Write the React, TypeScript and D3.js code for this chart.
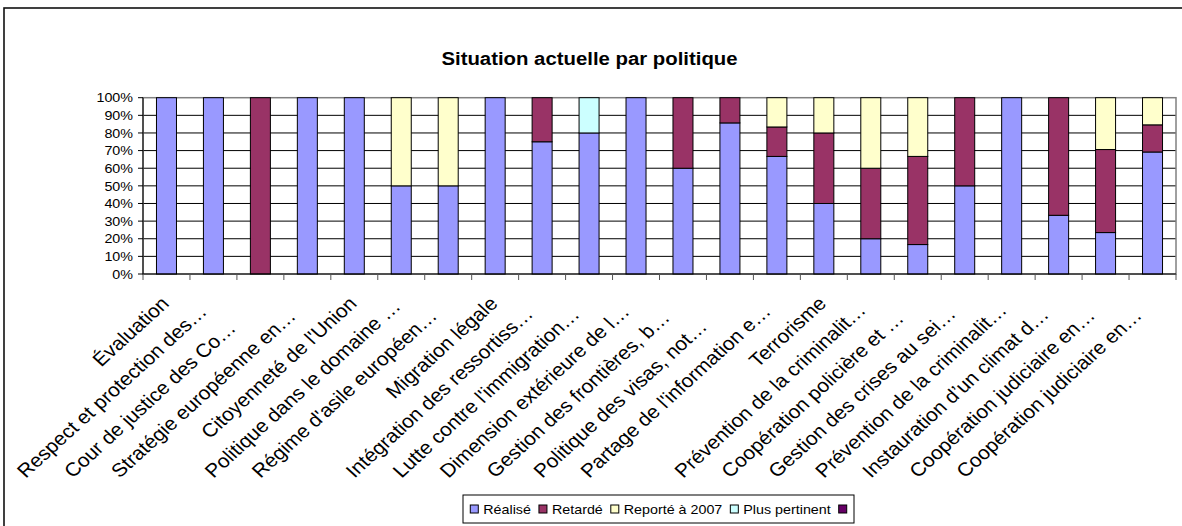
import React, { useEffect, useRef } from 'react';
import * as d3 from 'd3';

const categories = [
  'Évaluation',
  'Respect et protection des…',
  'Cour de justice des Co…',
  'Stratégie européenne en…',
  "Citoyenneté de l'Union",
  'Politique dans le domaine …',
  "Régime d'asile européen…",
  'Migration légale',
  'Intégration des ressortiss…',
  "Lutte contre l'immigration…",
  'Dimension extérieure de l…',
  'Gestion des frontières, b…',
  'Politique des visas, not…',
  "Partage de l'information e…",
  'Terrorisme',
  'Prévention de la criminalit…',
  'Coopération policière et …',
  'Gestion des crises au sei…',
  'Prévention de la criminalit…',
  'Instauration d’un climat d…',
  'Coopération judiciaire en…',
  'Coopération judiciaire en…',
];

// percentages
const realise = [100, 100, 0, 100, 100, 50, 50, 100, 75, 80, 100, 60, 85.7, 66.7, 40, 20, 16.7, 50, 100, 33.3, 23.5, 69.2];
const retarde = [0, 0, 100, 0, 0, 0, 0, 0, 25, 0, 0, 40, 14.3, 16.7, 40, 40, 50, 50, 0, 66.7, 47.1, 15.4];
const reporte = [0, 0, 0, 0, 0, 50, 50, 0, 0, 0, 0, 0, 0, 16.6, 20, 40, 33.3, 0, 0, 0, 29.4, 15.4];
const plusPertinent = [0, 0, 0, 0, 0, 0, 0, 0, 0, 20, 0, 0, 0, 0, 0, 0, 0, 0, 0, 0, 0, 0];
const sansNom = [0, 0, 0, 0, 0, 0, 0, 0, 0, 0, 0, 0, 0, 0, 0, 0, 0, 0, 0, 0, 0, 0];

const seriesNames = ['Réalisé', 'Retardé', 'Reporté à 2007', 'Plus pertinent', ''];
const seriesValues = [realise, retarde, reporte, plusPertinent, sansNom];
const seriesColors = ['#9999FF', '#993366', '#FFFFCC', '#CCFFFF', '#660066'];
const yTicks = [0, 10, 20, 30, 40, 50, 60, 70, 80, 90, 100];

const FONT = '"Liberation Sans", Arial, sans-serif';
const SX = 1.1; // the picture is stretched sideways

const App: React.FC = () => {
  const svgRef = useRef<SVGSVGElement>(null);

  useEffect(() => {
    if (!svgRef.current) return;
    const svg = d3.select(svgRef.current);
    svg.selectAll('*').remove();

    const left = 143, right = 1176, top = 97.7, bottom = 274;

    // frame
    svg.append('rect')
      .attr('x', 4).attr('y', 8)
      .attr('width', 1200).attr('height', 600)
      .attr('fill', 'white').attr('stroke', '#111').attr('stroke-width', 1.6);

    const x = d3.scaleBand<number>()
      .domain(categories.map((_, i) => i))
      .range([left, right])
      .paddingInner(0.574)
      .paddingOuter(0.287);

    const y = d3.scaleLinear().domain([0, 100]).range([bottom, top]);

    // gridlines
    svg.append('g').selectAll('line')
      .data(yTicks.slice(1, -1))
      .enter().append('line')
      .attr('x1', left).attr('x2', right)
      .attr('y1', d => y(d)).attr('y2', d => y(d))
      .attr('stroke', '#000').attr('stroke-width', 1);

    // plot border
    svg.append('rect')
      .attr('x', left).attr('y', top)
      .attr('width', right - left).attr('height', bottom - top)
      .attr('fill', 'none').attr('stroke', '#808080').attr('stroke-width', 1.5);

    // stacked bars
    const rows = categories.map((_, i) => {
      const r: Record<string, number> = { i };
      seriesNames.forEach((_, s) => { r['s' + s] = seriesValues[s][i]; });
      return r;
    });
    const stack = d3.stack<Record<string, number>>().keys(seriesNames.map((_, s) => 's' + s));
    const layers = stack(rows);

    layers.forEach((layer, s) => {
      svg.append('g').selectAll('rect')
        .data(layer.filter(d => d[1] - d[0] > 0))
        .enter().append('rect')
        .attr('x', d => x(d.data.i) as number)
        .attr('width', x.bandwidth())
        .attr('y', d => y(d[1]))
        .attr('height', d => y(d[0]) - y(d[1]))
        .attr('fill', seriesColors[s])
        .attr('stroke', '#000').attr('stroke-width', 1);
    });

    // axes
    svg.append('line')
      .attr('x1', left).attr('x2', right).attr('y1', bottom).attr('y2', bottom)
      .attr('stroke', '#000');
    svg.append('line')
      .attr('x1', left).attr('x2', left).attr('y1', top).attr('y2', bottom)
      .attr('stroke', '#000');

    const step = x.step();
    svg.append('g').selectAll('line')
      .data(d3.range(categories.length + 1))
      .enter().append('line')
      .attr('x1', d => left + d * step).attr('x2', d => left + d * step)
      .attr('y1', bottom).attr('y2', bottom + 6)
      .attr('stroke', '#555');

    svg.append('g').selectAll('line')
      .data(yTicks)
      .enter().append('line')
      .attr('x1', left - 5).attr('x2', left)
      .attr('y1', d => y(d)).attr('y2', d => y(d))
      .attr('stroke', '#000');

    svg.append('g').selectAll('text')
      .data(yTicks)
      .enter().append('text')
      .attr('transform', d => `translate(133,${y(d)}) scale(${SX},1)`)
      .attr('dy', '0.36em')
      .attr('text-anchor', 'end')
      .style('font-family', FONT)
      .style('font-size', '13px')
      .text(d => `${d}%`);

    // category labels
    const maxLen = 246;
    svg.append('g').selectAll('text')
      .data(categories.map((c, i) => ({ c, i })))
      .enter().append('text')
      .attr('transform', d => `translate(${(x(d.i) as number) + x.bandwidth() / 2 + 3.7},304.7) scale(${SX},1) rotate(-45)`)
      .attr('x', d => (d.c.endsWith('…') ? -maxLen : 0))
      .attr('text-anchor', d => (d.c.endsWith('…') ? 'start' : 'end'))
      .style('font-family', FONT)
      .style('font-size', '19px')
      .text(d => d.c);

    // title
    svg.append('text')
      .attr('transform', `translate(589.5,65) scale(${SX},1)`)
      .attr('text-anchor', 'middle')
      .style('font-family', FONT)
      .style('font-size', '18.5px')
      .style('font-weight', 'bold')
      .text('Situation actuelle par politique');

    // legend
    const lx = 463, ly = 495, lw = 391, lh = 28;
    svg.append('rect')
      .attr('x', lx).attr('y', ly).attr('width', lw).attr('height', lh)
      .attr('fill', 'white').attr('stroke', '#000').attr('stroke-width', 1);

    const lg = svg.append('g');
    const sq = 8, gapIn = 5, gapOut = 8;
    let cx = 0;
    const cy = ly + lh / 2;
    seriesNames.forEach((name, s) => {
      lg.append('rect')
        .attr('x', cx).attr('y', cy - sq / 2)
        .attr('width', sq).attr('height', sq)
        .attr('fill', seriesColors[s]).attr('stroke', '#000').attr('stroke-width', 1);
      cx += sq;
      if (name) {
        const t = lg.append('text')
          .attr('transform', `translate(${cx + gapIn},${cy}) scale(${SX},1)`)
          .attr('dy', '0.36em')
          .style('font-family', FONT)
          .style('font-size', '13px')
          .text(name);
        const w = (t.node() as SVGTextElement).getComputedTextLength() * SX;
        cx += gapIn + w + gapOut;
      }
    });
    lg.attr('transform', `translate(${lx + (lw - cx) / 2},0)`);
  }, []);

  return (
    <svg
      ref={svgRef}
      width={1182}
      height={526}
      style={{ position: 'absolute', left: 0, top: 0, background: 'white' }}
    />
  );
};

export default App;
